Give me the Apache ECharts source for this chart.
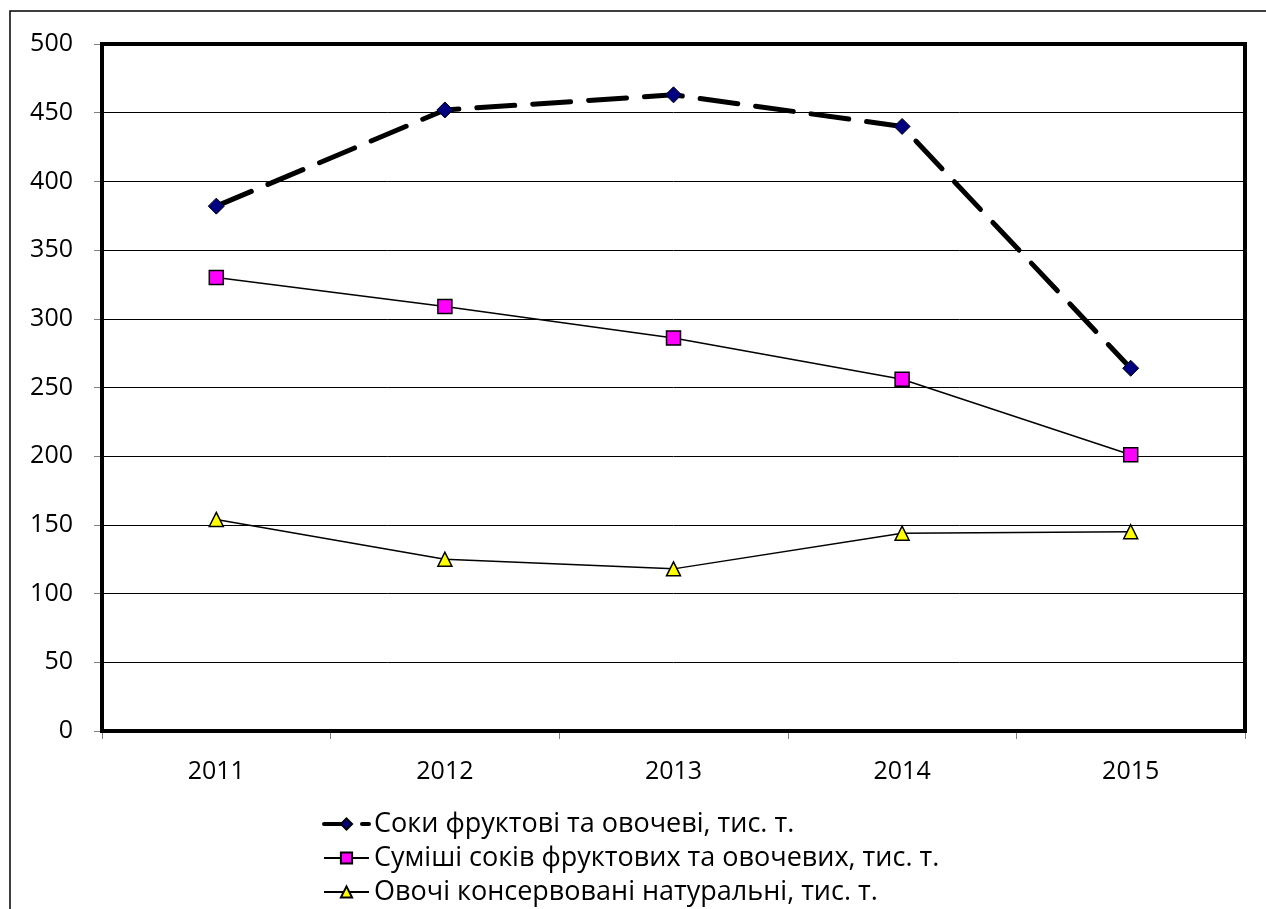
<!DOCTYPE html>
<html><head><meta charset="utf-8">
<script src="https://cdn.jsdelivr.net/npm/echarts@6/dist/echarts.min.js"></script>
<style>html,body{margin:0;padding:0;background:#fff}#c{width:1266px;height:909px}</style>
</head><body><div id="c"></div>
<script>
const categories = ['2011', '2012', '2013', '2014', '2015'];
const juices = [382, 452, 463, 440, 264];
const mixes = [330, 309, 286, 256, 201];
const vegetables = [154, 125, 118, 144, 145];
const names = ['Соки фруктові та овочеві, тис. т.', 'Суміші соків фруктових та овочевих, тис. т.', 'Овочі консервовані натуральні, тис. т.'];

const font = 'Open Sans';
const chart = echarts.init(document.getElementById('c'), null, {renderer: 'canvas'});
chart.setOption({
  animation: false,
  backgroundColor: '#fff',
  graphic: [{type: 'rect', shape: {x: 10, y: 11, width: 1300, height: 950}, style: {fill: 'none', stroke: '#000', lineWidth: 1.5}, z: -1}],
  grid: {left: 102, right: 21, top: 44, bottom: 178, show: true, borderColor: '#000', borderWidth: 4, backgroundColor: 'transparent', z: 10},
  legend: {
    orient: 'vertical', left: 322, top: 807, padding: 0, height: 110,
    itemWidth: 45, itemHeight: 14, itemGap: 0,
    textStyle: {fontFamily: font, fontSize: 27, color: '#000', lineHeight: 34},
    data: [
      {name: names[0], lineStyle: {width: 4, type: [24, 14, 8, 60], cap: 'round'}},
      {name: names[1]},
      {name: names[2]}
    ]
  },
  xAxis: {
    type: 'category', data: categories, boundaryGap: true,
    axisLine: {show: false},
    axisTick: {show: true, length: 8, lineStyle: {color: '#808080', width: 1}},
    axisLabel: {fontFamily: font, fontSize: 25, color: '#000', margin: 28}
  },
  yAxis: {
    type: 'value', min: 0, max: 500, interval: 50,
    axisLine: {show: false},
    axisTick: {show: true, length: 8, lineStyle: {color: '#808080', width: 1}},
    axisLabel: {fontFamily: font, fontSize: 25, color: '#000', margin: 29},
    splitLine: {show: true, lineStyle: {color: '#000', width: 1}}
  },
  series: [
    {name: names[0], type: 'line', data: juices, symbol: 'diamond', symbolSize: 16,
     itemStyle: {color: '#000080', borderColor: '#000', borderWidth: 1},
     lineStyle: {color: '#000', width: 5, type: [38, 18], cap: 'round'}},
    {name: names[1], type: 'line', data: mixes, symbol: 'rect', symbolSize: 14,
     itemStyle: {color: '#FF00FF', borderColor: '#000', borderWidth: 1.5},
     lineStyle: {color: '#000', width: 1.5}},
    {name: names[2], type: 'line', data: vegetables, symbol: 'triangle', symbolSize: 14,
     itemStyle: {color: '#FFFF00', borderColor: '#000', borderWidth: 1.5},
     lineStyle: {color: '#000', width: 1.5}}
  ]
});
</script></body></html>
